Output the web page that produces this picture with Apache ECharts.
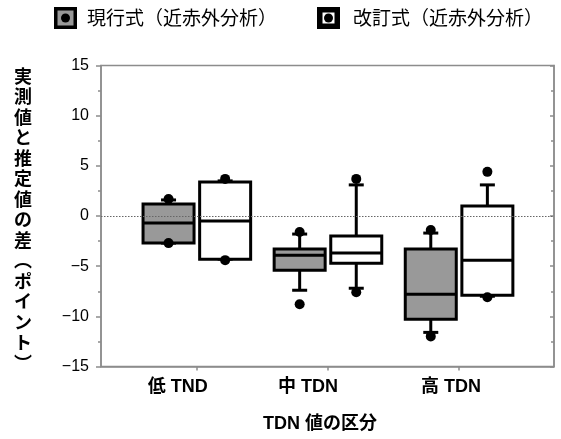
<!DOCTYPE html>
<html>
<head>
<meta charset="utf-8">
<script src="https://cdn.jsdelivr.net/npm/echarts@6/dist/echarts.min.js"></script>
<style>
html,body{margin:0;padding:0;background:#fff;}
#chart{width:561px;height:439px;}
</style>
</head>
<body>
<div id="chart"></div>
<script>
// ---- data ----
const categories = ['低 TND', '中 TDN', '高 TDN'];
const seriesNames = ['現行式（近赤外分析）', '改訂式（近赤外分析）'];
const yTicks = [-15, -10, -5, 0, 5, 10, 15];

// 現行式
const curWhiskerLow  = [-2.7, -7.4, -11.6];
const curQ1          = [-2.7, -5.4, -10.3];
const curMedian      = [-0.7, -3.9, -7.8];
const curQ3          = [1.2, -3.3, -3.3];
const curWhiskerHigh = [1.6, -1.8, -1.7];
const curMin         = [-2.7, -8.8, -12.0];
const curMax         = [1.7, -1.6, -1.4];

// 改訂式
const revWhiskerLow  = [-4.3, -7.2, -8.0];
const revQ1          = [-4.3, -4.7, -7.9];
const revMedian      = [-0.5, -3.7, -4.4];
const revQ3          = [3.4, -2.0, 1.0];
const revWhiskerHigh = [3.5, 3.1, 3.1];
const revMin         = [-4.4, -7.6, -8.1];
const revMax         = [3.7, 3.7, 4.4];

// ---- build ----
function buildData(wl, q1, med, q3, wh, mn, mx) {
  return categories.map((c, i) => [i + 1, wl[i], q1[i], med[i], q3[i], wh[i], mn[i], mx[i]]);
}
const curData = buildData(curWhiskerLow, curQ1, curMedian, curQ3, curWhiskerHigh, curMin, curMax);
const revData = buildData(revWhiskerLow, revQ1, revMedian, revQ3, revWhiskerHigh, revMin, revMax);

const AXIS_COLOR = '#8c8c8c';
const BOX_W = 51, OFFSET = 28.3, CAP_W = 15, LW = 3, DOT_R = 5;

function makeRender(offset, fill) {
  return function (params, api) {
    const cx = api.coord([api.value(0), 0])[0] + offset;
    const y = (k) => api.coord([api.value(0), api.value(k)])[1];
    const yWl = y(1), yQ1 = y(2), yMed = y(3), yQ3 = y(4), yWh = y(5), yMin = y(6), yMax = y(7);
    const ls = { stroke: '#000', lineWidth: LW };
    const children = [
      { type: 'line', shape: { x1: cx, y1: yQ1, x2: cx, y2: yWl }, style: ls },
      { type: 'line', shape: { x1: cx, y1: yQ3, x2: cx, y2: yWh }, style: ls },
      { type: 'line', shape: { x1: cx - CAP_W / 2, y1: yWl, x2: cx + CAP_W / 2, y2: yWl }, style: ls },
      { type: 'line', shape: { x1: cx - CAP_W / 2, y1: yWh, x2: cx + CAP_W / 2, y2: yWh }, style: ls },
      { type: 'rect', shape: { x: cx - BOX_W / 2, y: yQ3, width: BOX_W, height: yQ1 - yQ3 },
        style: { fill: fill, stroke: '#000', lineWidth: LW } },
      { type: 'line', shape: { x1: cx - BOX_W / 2, y1: yMed, x2: cx + BOX_W / 2, y2: yMed }, style: ls },
      { type: 'circle', shape: { cx: cx, cy: yMin, r: DOT_R }, style: { fill: '#000' } },
      { type: 'circle', shape: { cx: cx, cy: yMax, r: DOT_R }, style: { fill: '#000' } }
    ];
    return { type: 'group', children: children };
  };
}

const chart = echarts.init(document.getElementById('chart'), null, { renderer: 'canvas' });
const LATIN = "'Liberation Sans', 'Noto Sans CJK JP', sans-serif";
const CJK = "'Noto Sans CJK JP', 'Liberation Sans', sans-serif";
const yTitle = '実測値と推定値の差︵ポイント︶';

const labelPad = [38, 40, 16];

chart.setOption({
  animation: false,
  backgroundColor: '#fff',
  grid: { left: 101, right: 7, top: 65.5, bottom: 72.5, show: true, borderColor: AXIS_COLOR, borderWidth: 1.5, backgroundColor: 'transparent' },
  xAxis: {
    type: 'value', min: 0.269, max: 3.724,
    name: 'TDN 値の区分', nameLocation: 'middle', nameGap: 49,
    nameTextStyle: { fontFamily: LATIN, fontWeight: 'bold', fontSize: 18, color: '#000', padding: [0, 15, 0, 0] },
    axisLine: { show: true, onZero: false, lineStyle: { color: AXIS_COLOR, width: 1.5 } },
    axisTick: { show: true, customValues: [1, 2, 3], length: 4, lineStyle: { color: AXIS_COLOR, width: 1.5 } },
    axisLabel: {
      customValues: [1, 2, 3], margin: 12,
      formatter: function (v) { const i = Math.round(v) - 1; return '{r' + i + '|' + categories[i] + '}'; },
      rich: {
        r0: { fontFamily: LATIN, fontWeight: 'bold', fontSize: 18, color: '#000', padding: [0, labelPad[0], 0, 0] },
        r1: { fontFamily: LATIN, fontWeight: 'bold', fontSize: 18, color: '#000', padding: [0, labelPad[1], 0, 0] },
        r2: { fontFamily: LATIN, fontWeight: 'bold', fontSize: 18, color: '#000', padding: [0, labelPad[2], 0, 0] }
      }
    },
    splitLine: { show: false }
  },
  yAxis: [
    {
      type: 'value', min: -15, max: 15, interval: 5, position: 'left',
      axisLine: { show: true, lineStyle: { color: AXIS_COLOR, width: 1.5 } },
      axisTick: { show: true, length: 5, lineStyle: { color: AXIS_COLOR, width: 1.5 } },
      minorTick: { show: true, splitNumber: 2, length: 3, lineStyle: { color: AXIS_COLOR, width: 1.5 } },
      axisLabel: { margin: 12, fontFamily: LATIN, fontSize: 16, color: '#000',
        formatter: function (v) { return String(v).replace('-', '\u2212'); } },
      splitLine: { show: false }
    },
    {
      type: 'value', min: -15, max: 15, interval: 5, position: 'right',
      axisLine: { show: true, lineStyle: { color: AXIS_COLOR, width: 1.5 } },
      axisTick: { show: true, inside: true, length: 4, lineStyle: { color: AXIS_COLOR, width: 1.5 } },
      minorTick: { show: true, splitNumber: 2, length: 3, lineStyle: { color: AXIS_COLOR, width: 1.5 } },
      axisLabel: { show: false },
      splitLine: { show: false }
    }
  ],
  graphic: [
    { type: 'text', left: 14, top: 'middle', style: { text: yTitle.split('').join('\n'), fontFamily: CJK, fontWeight: 'bold', fontSize: 18, lineHeight: 20.5, fill: '#000', align: 'center' }, x: 23, y: 218, silent: true },
    // legend item 1
    { type: 'rect', shape: { x: 54, y: 7, width: 23, height: 22 }, style: { fill: '#000' } },
    { type: 'rect', shape: { x: 57.5, y: 10.5, width: 16, height: 15 }, style: { fill: '#999' } },
    { type: 'circle', shape: { cx: 65.5, cy: 18, r: 4.5 }, style: { fill: '#000' } },
    { type: 'text', x: 87, y: 18, style: { text: seriesNames[0], fontFamily: CJK, fontSize: 19, fill: '#000', verticalAlign: 'middle' } },
    // legend item 2
    { type: 'rect', shape: { x: 317, y: 7, width: 23, height: 22 }, style: { fill: '#000' } },
    { type: 'rect', shape: { x: 322.5, y: 12.5, width: 12, height: 11 }, style: { fill: '#fff' } },
    { type: 'circle', shape: { cx: 328.5, cy: 18, r: 4.5 }, style: { fill: '#000' } },
    { type: 'text', x: 353, y: 18, style: { text: seriesNames[1], fontFamily: CJK, fontSize: 19, fill: '#000', verticalAlign: 'middle' } }
  ],
  series: [
    {
      type: 'line', data: [], silent: true, z: 1,
      markLine: { silent: true, symbol: 'none', label: { show: false },
        lineStyle: { type: [1.5, 1.5], color: '#666', width: 1 },
        data: [{ yAxis: 0 }] }
    },
    { name: seriesNames[0], type: 'custom', data: curData, renderItem: makeRender(-OFFSET, '#999'), z: 3,
      encode: { x: 0, y: [1, 2, 3, 4, 5, 6, 7] } },
    { name: seriesNames[1], type: 'custom', data: revData, renderItem: makeRender(OFFSET, '#fff'), z: 3,
      encode: { x: 0, y: [1, 2, 3, 4, 5, 6, 7] } }
  ]
});
</script>
</body>
</html>
